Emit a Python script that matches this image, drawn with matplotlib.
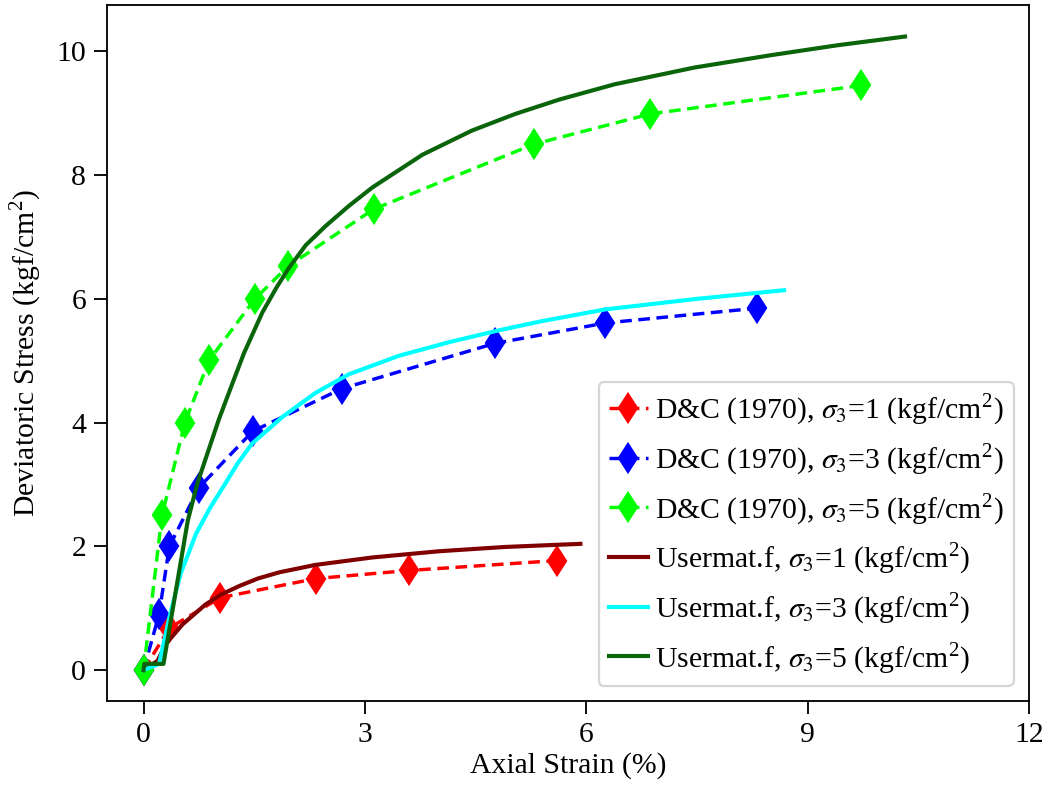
import numpy as np
import matplotlib
matplotlib.use("Agg")
import matplotlib.pyplot as plt

# D&C (1970) test data, axial strain (%) vs deviatoric stress (kgf/cm2)
dc1_strain = [0.0, 0.35, 1.04, 2.34, 3.60, 5.60]
dc1_stress = [0.0, 0.68, 1.17, 1.48, 1.61, 1.77]

dc3_strain = [0.0, 0.21, 0.35, 0.75, 1.48, 2.69, 4.76, 6.26, 8.32]
dc3_stress = [0.0, 0.90, 2.00, 2.95, 3.86, 4.55, 5.28, 5.61, 5.85]

dc5_strain = [0.0, 0.25, 0.56, 0.89, 1.51, 1.96, 3.12, 5.29, 6.87, 9.73]
dc5_stress = [0.0, 2.50, 4.00, 5.01, 6.00, 6.53, 7.45, 8.50, 8.99, 9.45]

# Usermat.f results
um1_strain = [0.0, 0.19, 0.30, 0.53, 0.84, 1.05, 1.30, 1.55, 1.84, 2.33, 3.10, 4.00,
              4.90, 5.92]
um1_stress = [0.0, 0.15, 0.42, 0.74, 1.06, 1.22, 1.36, 1.48, 1.58, 1.70, 1.82, 1.92,
              1.99, 2.04]

um3_strain = [0.0, 0.21, 0.35, 0.50, 0.71, 0.90, 1.09, 1.28, 1.47, 1.88, 2.33, 2.78,
              3.46, 4.14, 4.81, 5.40, 6.26, 7.50, 8.68]
um3_stress = [0.0, 0.10, 0.85, 1.55, 2.20, 2.62, 2.98, 3.35, 3.66, 4.09, 4.48, 4.78,
              5.08, 5.30, 5.49, 5.64, 5.83, 6.00, 6.14]

um5_strain = [0.0, 0.01, 0.27, 0.44, 0.60, 0.73, 1.02, 1.20, 1.36, 1.61, 1.80, 1.97,
              2.20, 2.47, 2.78, 3.10, 3.78, 4.45, 5.04, 5.63, 6.39, 7.47, 8.51, 9.41,
              10.32]
um5_stress = [0.0, 0.10, 0.10, 1.30, 2.42, 3.02, 4.05, 4.62, 5.12, 5.78, 6.18, 6.50,
              6.87, 7.18, 7.50, 7.80, 8.33, 8.72, 8.99, 9.22, 9.47, 9.74, 9.94, 10.10,
              10.24]

plt.rcParams["font.family"] = ["Liberation Serif", "DejaVu Serif"]
plt.rcParams["mathtext.fontset"] = "stix"
plt.rcParams["font.size"] = 13

fig, ax = plt.subplots(figsize=(1053 / 165, 792 / 165), dpi=165)
fig.subplots_adjust(left=0.1013, right=0.9772, bottom=0.1149, top=0.9937)

unit = r"(kgf/cm$^{\mathregular{2}}$)"
mk = dict(marker="d", markersize=8.8, linestyle="--", linewidth=1.5, dashes=(3.4, 1.9))

ax.plot(dc1_strain, dc1_stress, color="red", label=r"D&C (1970), $\sigma_3$=1 " + unit, **mk)
ax.plot(dc3_strain, dc3_stress, color="blue", label=r"D&C (1970), $\sigma_3$=3 " + unit, **mk)
ax.plot(dc5_strain, dc5_stress, color="#00ff00", label=r"D&C (1970), $\sigma_3$=5 " + unit, **mk)

ax.plot(um1_strain, um1_stress, color="#800000", linewidth=1.8, label=r"Usermat.f, $\sigma_3$=1 " + unit)
ax.plot(um3_strain, um3_stress, color="cyan", linewidth=1.8, label=r"Usermat.f, $\sigma_3$=3 " + unit)
ax.plot(um5_strain, um5_stress, color="#0a640a", linewidth=1.8, label=r"Usermat.f, $\sigma_3$=5 " + unit)

ax.set_xlim(-0.5, 12)
ax.set_ylim(-0.5, 10.75)
ax.set_xticks([0, 3, 6, 9, 12])
ax.set_yticks([0, 2, 4, 6, 8, 10])
ax.tick_params(length=5.5)

ax.set_xlabel("Axial Strain (%)", labelpad=2)
ax.set_ylabel(r"Deviatoric Stress (kgf/cm$^{\mathregular{2}}$)", labelpad=6)

ax.legend(loc="lower right", handlelength=1.3, handletextpad=0.25, borderpad=0.35)

fig.savefig("out.png", dpi=165)
